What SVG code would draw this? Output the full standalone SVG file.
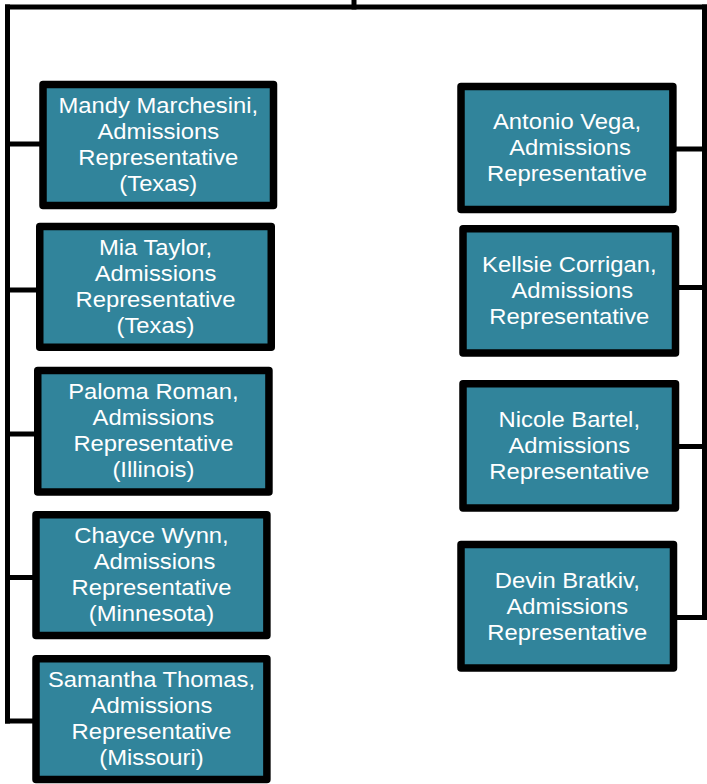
<svg xmlns="http://www.w3.org/2000/svg" width="707" height="784" viewBox="0 0 707 784">
<style>
.box{fill:#31849B;stroke:#000;stroke-width:7.5;stroke-linejoin:round}
.lbl{font-family:"Liberation Sans",Arial,sans-serif;font-size:21.5px;fill:#fff;text-anchor:middle}
.conn{stroke:#000;stroke-width:5;fill:none;stroke-linecap:square}
</style>
<rect width="707" height="784" fill="#fff"/>
<g id="connectors" class="conn">
<path d="M354,0V7"/>
<path d="M7.5,7H704.5"/>
<path d="M7.5,7V721"/>
<path d="M7.5,144H40"/>
<path d="M7.5,290H37"/>
<path d="M7.5,434H35"/>
<path d="M7.5,577.5H33"/>
<path d="M7.5,721H33"/>
<path d="M704.5,7V617.5"/>
<path d="M676,149H704.5"/>
<path d="M678,287.5H704.5"/>
<path d="M678,446.5H704.5"/>
<path d="M676,617.5H704.5"/>
</g>
<g id="mandy">
<rect class="box" x="43" y="84.5" width="230.5" height="121"/>
<text class="lbl" transform="translate(158.3,0) scale(1.107,1)"><tspan x="0" y="113">Mandy Marchesini,</tspan><tspan x="0" y="139">Admissions</tspan><tspan x="0" y="165">Representative</tspan><tspan x="0" y="191">(Texas)</tspan></text>
</g>
<g id="mia">
<rect class="box" x="39.75" y="226.45" width="231.5" height="120.8"/>
<text class="lbl" transform="translate(155.5,0) scale(1.107,1)"><tspan x="0" y="254.9">Mia Taylor,</tspan><tspan x="0" y="280.9">Admissions</tspan><tspan x="0" y="306.9">Representative</tspan><tspan x="0" y="332.9">(Texas)</tspan></text>
</g>
<g id="paloma">
<rect class="box" x="37.75" y="370.45" width="231.2" height="121.5"/>
<text class="lbl" transform="translate(153.4,0) scale(1.107,1)"><tspan x="0" y="399.2">Paloma Roman,</tspan><tspan x="0" y="425.2">Admissions</tspan><tspan x="0" y="451.2">Representative</tspan><tspan x="0" y="477.2">(Illinois)</tspan></text>
</g>
<g id="chayce">
<rect class="box" x="36" y="514.75" width="230.9" height="120.8"/>
<text class="lbl" transform="translate(151.5,0) scale(1.107,1)"><tspan x="0" y="543.2">Chayce Wynn,</tspan><tspan x="2.7" y="569.2">Admissions</tspan><tspan x="0" y="595.2">Representative</tspan><tspan x="0" y="621.2">(Minnesota)</tspan></text>
</g>
<g id="samantha">
<rect class="box" x="36" y="658.75" width="230.9" height="120.8"/>
<text class="lbl" transform="translate(151.5,0) scale(1.107,1)"><tspan x="0" y="687.2">Samantha Thomas,</tspan><tspan x="0" y="713.2">Admissions</tspan><tspan x="0" y="739.2">Representative</tspan><tspan x="0" y="765.2">(Missouri)</tspan></text>
</g>
<g id="antonio">
<rect class="box" x="461" y="86.4" width="211.9" height="123.1"/>
<text class="lbl" transform="translate(567,0) scale(1.107,1)"><tspan x="0" y="129.5">Antonio Vega,</tspan><tspan x="2.7" y="155.5">Admissions</tspan><tspan x="0" y="181.5">Representative</tspan></text>
</g>
<g id="kellsie">
<rect class="box" x="463" y="228.75" width="212.5" height="124.2"/>
<text class="lbl" transform="translate(569.3,0) scale(1.107,1)"><tspan x="0" y="272.4">Kellsie Corrigan,</tspan><tspan x="2.7" y="298.4">Admissions</tspan><tspan x="0" y="324.4">Representative</tspan></text>
</g>
<g id="nicole">
<rect class="box" x="463" y="383.75" width="212.5" height="124.2"/>
<text class="lbl" transform="translate(569.3,0) scale(1.107,1)"><tspan x="0" y="427.4">Nicole Bartel,</tspan><tspan x="0" y="453.4">Admissions</tspan><tspan x="0" y="479.4">Representative</tspan></text>
</g>
<g id="devin">
<rect class="box" x="461" y="544.45" width="212.5" height="123.5"/>
<text class="lbl" transform="translate(567.3,0) scale(1.107,1)"><tspan x="0" y="587.7">Devin Bratkiv,</tspan><tspan x="0" y="613.7">Admissions</tspan><tspan x="0" y="639.7">Representative</tspan></text>
</g>
</svg>
